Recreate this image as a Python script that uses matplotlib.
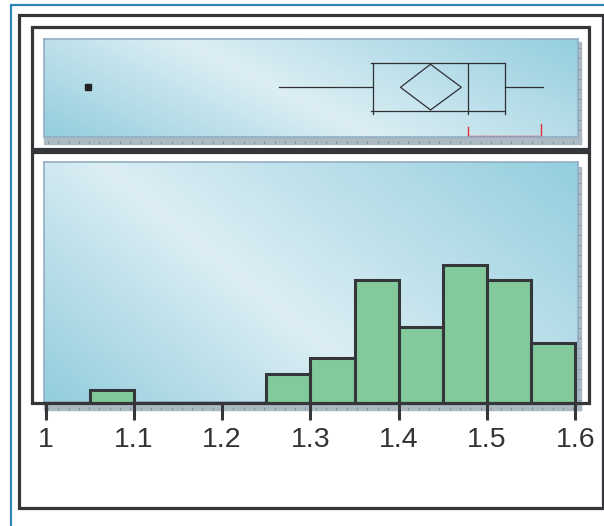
import numpy as np
import matplotlib
matplotlib.use("Agg")
import matplotlib.pyplot as plt
from matplotlib.patches import Rectangle, Polygon
from matplotlib.lines import Line2D
from matplotlib.colors import LinearSegmentedColormap

# Histogram data (bin width 0.05)
bin_left = [1.00, 1.05, 1.10, 1.15, 1.20, 1.25, 1.30, 1.35, 1.40, 1.45, 1.50, 1.55]
counts = [0, 1, 0, 0, 0, 2, 3, 8, 5, 9, 8, 4]
bin_width = 0.05

# Box plot summary
whisker_low = 1.265
q1 = 1.371
median = 1.478
q3 = 1.520
whisker_high = 1.563
mean = 1.436
mean_ci = (1.402, 1.471)
outliers = [1.048]
shortest_half = (1.478, 1.561)

tick_values = [1.0, 1.1, 1.2, 1.3, 1.4, 1.5, 1.6]
tick_labels = ["1", "1.1", "1.2", "1.3", "1.4", "1.5", "1.6"]

W, H = 604, 526
dark = "#34363a"
fig = plt.figure(figsize=(W / 100, H / 100), dpi=100, facecolor="white")


def px_axes(l, t, r, b):
    return fig.add_axes([l / W, 1 - b / H, (r - l) / W, (b - t) / H])


def frame(l, t, r, b, color, lw, z=10):
    fig.add_artist(Rectangle((l / W, 1 - b / H), (r - l) / W, (b - t) / H,
                             transform=fig.transFigure, fill=False,
                             edgecolor=color, linewidth=lw, zorder=z))


def fline(xs, ys, color, lw, z=10):
    fig.add_artist(Line2D([x / W for x in xs], [1 - y / H for y in ys],
                          transform=fig.transFigure, color=color,
                          linewidth=lw, zorder=z, solid_capstyle="butt"))


def paint(ax, k, mid):
    cmap = LinearSegmentedColormap.from_list(
        "bg", [(0, "#93cddd"), (mid, "#dceef4"), (1, "#94cede")])
    x = np.linspace(0, 1, 400)
    y = np.linspace(1, 0, 200)
    X, Y = np.meshgrid(x, y)
    t = (X + k * Y) / (1 + k)
    x0, x1 = ax.get_xlim()
    y0, y1 = ax.get_ylim()
    ax.imshow(t, cmap=cmap, extent=(x0, x1, y0, y1), aspect="auto",
              zorder=0, interpolation="bilinear")
    ax.set_xlim(x0, x1)
    ax.set_ylim(y0, y1)


xlim = (1 - 1.5 / 883, 1 + 532.5 / 883)

# ---- box plot panel ----
box_ax = px_axes(44, 39, 578, 137)
box_ax.set_xlim(*xlim)
box_ax.set_ylim(0, 1)
paint(box_ax, 0.37, 0.45)
lc = "#2e3033"
lw = 0.9
yc, yb, yt = 0.507, 0.262, 0.752
box_ax.plot([whisker_low, q1], [yc, yc], color=lc, lw=lw)
box_ax.plot([q3, whisker_high], [yc, yc], color=lc, lw=lw)
box_ax.plot([q1 - 0.002, q3], [yt, yt], color=lc, lw=lw)
box_ax.plot([q1 - 0.002, q3], [yb, yb], color=lc, lw=lw)
for v in (q1, median, q3):
    box_ax.plot([v, v], [yt, 0.235], color=lc, lw=lw)
box_ax.add_patch(Polygon([(mean_ci[0], yc), (mean, 0.742), (mean_ci[1], yc), (mean, 0.276)],
                         closed=True, fill=False, edgecolor=lc, lw=lw))
box_ax.plot(outliers, [yc] * len(outliers), marker="s", ms=5, color="#222222", ls="none")
red = "#e0303a"
box_ax.plot([shortest_half[0], shortest_half[0], shortest_half[1], shortest_half[1]],
            [0.105, 0.013, 0.013, 0.13], color=red, lw=1.0, clip_on=False)
box_ax.set_xticks([])
box_ax.set_yticks([])

# ---- histogram panel ----
hist_ax = px_axes(44, 162, 578, 402)
hist_ax.set_xlim(*xlim)
hist_ax.set_ylim(0.2, 15.6)
paint(hist_ax, 0.55, 0.42)
hist_ax.bar(bin_left, counts, width=bin_width, align="edge", color="#82ca9c",
            edgecolor=dark, linewidth=2.2, zorder=3)
hist_ax.set_yticks([])
hist_ax.set_xticks(tick_values)
hist_ax.set_xticklabels(tick_labels, fontfamily="Liberation Sans")
hist_ax.tick_params(axis="x", direction="out", length=13, width=2.2, color=dark,
                    pad=5, labelsize=20.5, labelcolor="#333333")

for ax in (box_ax, hist_ax):
    for s in ax.spines.values():
        s.set_color("#93aec4")
        s.set_linewidth(1.2)

# ruler strips (shadow under each panel)
strip = "#aab9c2"
tickc = "#7d8c96"
for top, bot, rtop in ((137, 143.5, 42), (403, 410, 167)):
    fig.add_artist(Rectangle((44 / W, 1 - bot / H), (581 - 44) / W, (bot - top) / H,
                             transform=fig.transFigure, color=strip, zorder=-1))
    fig.add_artist(Rectangle((578 / W, 1 - bot / H), 3 / W, (bot - rtop) / H,
                             transform=fig.transFigure, color=strip, zorder=-1))
    for x in np.arange(48, 580, 10.3):
        fline([x, x], [bot - 3, bot], tickc, 0.6, z=-0.5)
    for y in np.arange(rtop + 6, bot - 6, 10.3):
        fline([578, 581], [y, y], tickc, 0.6, z=-0.5)

# frames
fline([10, 604], [5.3, 5.3], "#2e86b8", 1.6)
fline([11, 11], [5.3, 526], "#2e86b8", 1.6)
frame(18.5, 14.7, 602.7, 507.7, dark, 2.3)
frame(31.6, 27.3, 588.7, 149.3, dark, 2.3)
frame(31.6, 151.5, 588.7, 402.5, dark, 2.3)

fig.savefig("out.png", dpi=100, facecolor="white")
